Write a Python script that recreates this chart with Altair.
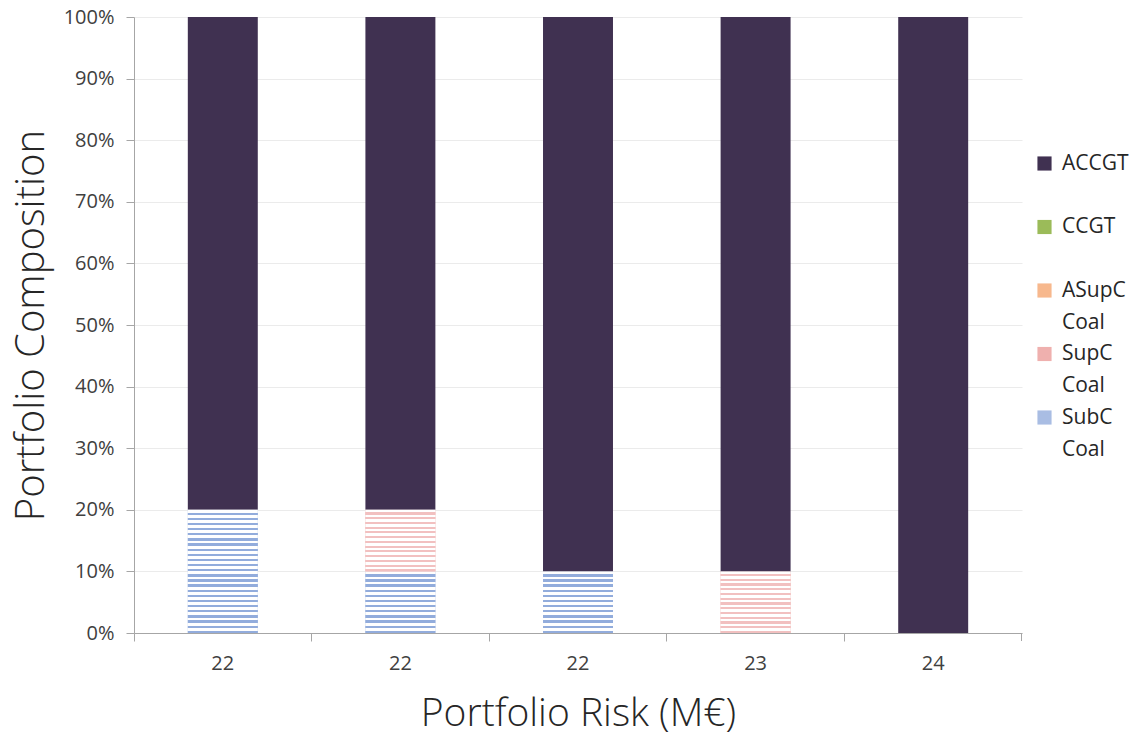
import json
import altair as alt
import pandas as pd

# Portfolio risk (M€) for each of the five portfolios on the x axis
risk_labels = ["22", "22", "22", "23", "24"]

# Technology share of each portfolio (%)
subc_coal = [20, 10, 10, 0, 0]
supc_coal = [0, 10, 0, 10, 0]
asupc_coal = [0, 0, 0, 0, 0]
ccgt = [0, 0, 0, 0, 0]
accgt = [80, 80, 90, 90, 100]

# Stacking order, bottom to top
stack_order = ["SubC Coal", "SupC Coal", "ASupC Coal", "CCGT", "ACCGT"]
# Legend order, top to bottom
legend_order = ["ACCGT", "CCGT", "ASupC Coal", "SupC Coal", "SubC Coal"]
legend_colors = ["#403151", "#9bbb59", "#f7b88d", "#efb0ae", "#a9bde3"]

series = {
    "SubC Coal": subc_coal,
    "SupC Coal": supc_coal,
    "ASupC Coal": asupc_coal,
    "CCGT": ccgt,
    "ACCGT": accgt,
}

rows = []
for tech, values in series.items():
    for i, v in enumerate(values):
        rows.append({
            "portfolio": i,
            "tech": tech,
            "share": v / 100,
            "order": stack_order.index(tech),
        })
df = pd.DataFrame(rows)


def stripes(n, color, duty):
    """Horizontal hatch as a linear gradient with n repeats."""
    stops = []
    for i in range(n):
        a = i / n
        b = (i + duty) / n
        c = (i + 1) / n
        stops += [
            {"offset": a, "color": "#ffffff"},
            {"offset": b, "color": "#ffffff"},
            {"offset": b, "color": color},
            {"offset": c, "color": color},
        ]
    return {"gradient": "linear", "x1": 0, "y1": 0, "x2": 0, "y2": 1, "stops": stops}


FONT = "Open Sans"
W, H = 888, 616
AXIS_GREY = "#a6a6a6"

label_expr = f"{json.dumps(risk_labels)}[datum.value]"

x_enc = alt.X(
    "portfolio:O",
    scale=alt.Scale(paddingInner=0, paddingOuter=0),
    axis=alt.Axis(
        title="Portfolio Risk (M€)",
        labelExpr=label_expr,
        labelAngle=0,
        labelFontSize=20,
        labelColor="#404040",
        labelPadding=12,
        bandPosition=0,
        ticks=True,
        tickSize=8,
        tickColor=AXIS_GREY,
        domainColor=AXIS_GREY,
        labelBound=False,
        titleFontSize=39,
        titleFontWeight=300,
        titleColor="#262626",
        titlePadding=21,
        grid=False,
    ),
)
y_enc = alt.Y(
    "y0:Q",
    scale=alt.Scale(domain=[0, 1], nice=False),
    axis=alt.Axis(
        title="Portfolio Composition",
        values=[i / 10 for i in range(11)],
        format=".0%",
        labelFontSize=20,
        labelColor="#404040",
        labelPadding=12,
        tickSize=8,
        tickColor=AXIS_GREY,
        domainColor=AXIS_GREY,
        gridColor="#ebebeb",
        titleFontSize=40,
        titleFontWeight=300,
        titleColor="#262626",
        titlePadding=12,
    ),
)

base = alt.Chart(df).transform_stack(
    stack="share",
    groupby=["portfolio"],
    as_=["y0", "y1"],
    sort=[alt.SortField("order", order="ascending")],
).transform_filter("datum.share > 0")

bar_width = alt.RelativeBandSize(0.394)

solid = base.mark_bar(width=bar_width).encode(
    x=x_enc,
    y=y_enc,
    y2="y1:Q",
    color=alt.Color(
        "tech:N",
        scale=alt.Scale(domain=legend_order, range=legend_colors),
        legend=alt.Legend(
            title=None,
            orient="none",
            legendX=900,
            legendY=136,
            symbolType="square",
            symbolSize=200,
            symbolStrokeWidth=0,
            labelFontSize=21,
            labelFont=FONT,
            labelColor="#262626",
            # every entry takes two lines so the rows are evenly spaced
            labelExpr="length(split(datum.label, ' ')) > 1 ? split(datum.label, ' ') : [datum.label, '']",
            rowPadding=9.5,
            labelOffset=7,
        ),
    ),
)

subc_hatch = base.transform_filter("datum.tech == 'SubC Coal'").mark_bar(
    width=bar_width
).encode(
    x="portfolio:O",
    y="y0:Q",
    y2="y1:Q",
    fill=alt.condition(
        "datum.share > 0.15",
        alt.value(stripes(24, "#92acdc", 0.55)),
        alt.value(stripes(12, "#92acdc", 0.55)),
    ),
)

supc_hatch = base.transform_filter("datum.tech == 'SupC Coal'").mark_bar(
    width=bar_width
).encode(
    x="portfolio:O",
    y="y0:Q",
    y2="y1:Q",
    fill=alt.condition(
        "datum.share > 0.15",
        alt.value(stripes(26, "#f2c0c0", 0.55)),
        alt.value(stripes(13, "#f2c0c0", 0.55)),
    ),
)

# closing tick at the right end of the category axis
end_tick = alt.Chart(df).mark_rule(color=AXIS_GREY).encode(
    x=alt.value(W - 0.5), y=alt.value(H), y2=alt.value(H + 8)
)

chart = alt.layer(solid, subc_hatch, supc_hatch, end_tick).properties(
    width=W,
    height=H,
    autosize=alt.AutoSizeParams(type="none"),
    padding={"left": 134, "top": 17, "right": 116, "bottom": 105},
).configure(
    font=FONT,
    style={"guide-label": {"lineHeight": 32}},
).configure_view(
    stroke=None,
)

chart.save("out.html", embed_options={"renderer": "svg", "actions": False})
